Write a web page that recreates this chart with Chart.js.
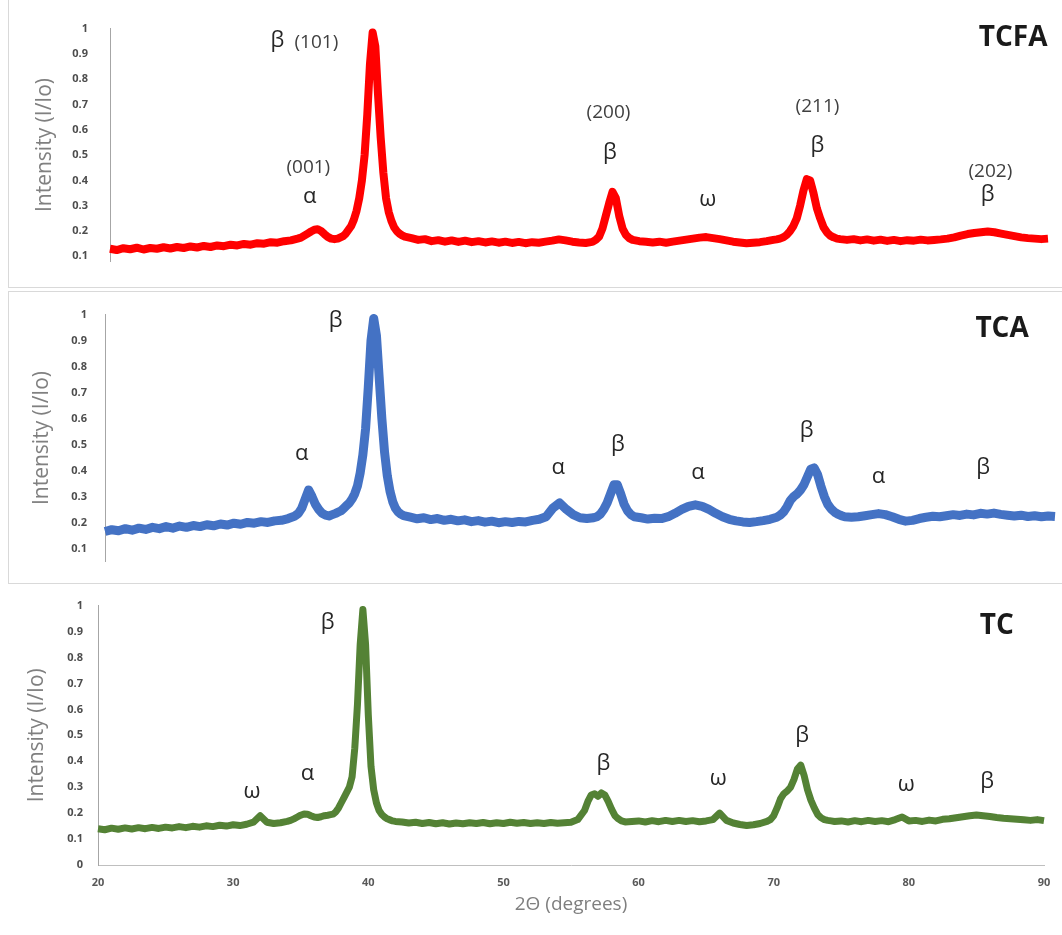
<!DOCTYPE html>
<html>
<head>
<meta charset="utf-8">
<script src="https://cdn.jsdelivr.net/npm/chart.js@4.4.0/dist/chart.umd.min.js"></script>
<style>
  body { margin: 0; background: #fff; width: 1062px; height: 935px; overflow: hidden; position: relative; }
  canvas { position: absolute; }
  .frame { position: absolute; border: 0 solid #d9d9d9; box-sizing: border-box; }
</style>
</head>
<body>
<div class="frame" style="left:8px;top:0;width:1054px;height:288px;border-left-width:1px;border-bottom-width:1px"></div>
<div class="frame" style="left:8px;top:291px;width:1054px;height:293px;border-left-width:1px;border-top-width:1px;border-bottom-width:1px"></div>
<canvas id="chartTcfa" width="1054" height="290" style="left:8px;top:0"></canvas>
<canvas id="chartTca" width="1054" height="296" style="left:8px;top:290px"></canvas>
<canvas id="chartTc" width="1062" height="351" style="left:0;top:584px"></canvas>
<script>
const fontFam = "'Open Sans', 'DejaVu Sans', sans-serif";

// 2theta positions (deg), shared by the three patterns
const twoTheta = [
  20,20.5,21,21.5,22,22.5,23,23.5,24,24.5,25,25.5,26,26.5,27,27.5,28,28.5,29,29.5,30,30.5,31,31.5,32,32.5,33,33.5,34,
  34.25,34.5,34.75,35,35.25,35.5,35.75,36,36.25,36.5,36.75,37,
  37.2,37.4,37.6,37.8,38,38.2,38.4,38.6,38.8,39,39.2,39.4,39.6,39.8,40,40.2,40.4,40.6,40.8,41,41.2,41.4,41.6,41.8,42,
  42.5,43,43.5,44,44.5,45,45.5,46,46.5,47,47.5,48,48.5,49,49.5,50,50.5,51,51.5,52,
  52.5,53,53.5,54,54.5,55,55.5,56,56.25,56.5,56.75,57,57.25,57.5,57.75,58,58.25,58.5,58.75,59,
  59.5,60,60.5,61,61.5,62,62.5,63,63.5,64,64.5,65,65.5,66,66.5,67,67.5,68,68.5,69,69.5,
  69.75,70,70.25,70.5,70.75,71,71.25,71.5,71.75,72,72.25,72.5,72.75,73,73.25,73.5,73.75,74,74.25,74.5,
  75,75.5,76,76.5,77,77.5,78,78.5,79,79.5,80,80.5,81,81.5,82,82.5,83,83.5,84,84.5,85,85.5,86,86.5,87,87.5,88,88.5,89,89.5,90
];

// I/Io
const tcfa = [
  .130,.125,.132,.128,.134,.127,.133,.130,.136,.131,.137,.133,.139,.135,.141,.137,.143,.140,.146,.143,.149,.146,.152,.150,.156,.154,.160,.163,.170,
  .174,.182,.19,.198,.205,.207,.2,.188,.177,.17,.168,.17,
  .175,.18,.19,.205,.22,.245,.28,.33,.40,.50,.66,.86,.985,.93,.74,.57,.43,.33,.275,.24,.215,.2,.19,.183,.178,
  .172,.165,.168,.16,.164,.158,.163,.157,.162,.156,.16,.155,.159,.154,.158,.153,.157,.152,.156,.154,
  .158,.162,.167,.163,.158,.155,.153,.157,.165,.178,.21,.26,.31,.355,.33,.26,.21,.185,.172,.165,
  .16,.158,.155,.158,.154,.158,.162,.166,.17,.174,.176,.172,.168,.163,.158,.155,.152,.154,.156,.16,.165,
  .167,.17,.175,.185,.2,.22,.25,.3,.36,.405,.4,.35,.29,.25,.215,.195,.182,.175,.17,.168,
  .165,.168,.163,.167,.162,.166,.161,.165,.16,.164,.162,.166,.163,.165,.167,.17,.175,.182,.188,.192,.195,.198,.195,.19,.185,.18,.175,.172,.17,.168,.17
];
const tca = [
  .165,.172,.168,.176,.17,.178,.173,.181,.176,.184,.178,.186,.181,.188,.184,.191,.187,.194,.19,.197,.193,.2,.197,.203,.2,.206,.208,.215,.225,
  .235,.255,.29,.325,.3,.27,.25,.235,.228,.225,.23,.235,
  .24,.245,.255,.265,.275,.29,.31,.34,.39,.46,.56,.72,.9,.985,.92,.76,.6,.47,.38,.32,.28,.255,.24,.232,.226,
  .22,.214,.218,.211,.215,.208,.212,.206,.21,.203,.207,.201,.205,.199,.203,.2,.204,.202,.208,.212,
  .222,.255,.275,.25,.23,.218,.215,.218,.222,.232,.25,.275,.31,.345,.345,.31,.27,.245,.23,.222,
  .218,.213,.216,.215,.222,.235,.25,.262,.268,.262,.25,.235,.222,.212,.206,.202,.2,.203,.207,.212,.22,
  .228,.24,.26,.285,.3,.31,.325,.345,.375,.405,.41,.385,.34,.3,.27,.252,.24,.232,.226,.222,
  .22,.222,.226,.23,.234,.23,.222,.212,.205,.208,.215,.22,.224,.222,.226,.23,.227,.232,.229,.235,.232,.236,.231,.228,.225,.228,.223,.226,.222,.225,.223
];
const tc = [
  .14,.136,.142,.138,.143,.139,.144,.14,.145,.141,.146,.143,.148,.144,.149,.146,.151,.148,.153,.15,.155,.152,.157,.165,.19,.165,.16,.163,.168,
  .172,.178,.185,.192,.197,.196,.19,.185,.183,.186,.19,.192,
  .194,.196,.205,.22,.24,.26,.28,.3,.34,.45,.62,.85,.985,.85,.58,.38,.29,.24,.21,.195,.185,.178,.174,.17,.168,
  .166,.162,.165,.16,.164,.159,.163,.158,.162,.159,.163,.16,.164,.159,.163,.16,.165,.161,.164,.16,
  .163,.16,.164,.161,.163,.165,.175,.21,.245,.27,.275,.265,.278,.27,.245,.215,.19,.178,.17,.166,
  .168,.17,.166,.171,.167,.172,.168,.172,.168,.171,.167,.17,.175,.2,.172,.162,.156,.152,.155,.16,.168,
  .175,.19,.22,.255,.275,.285,.3,.33,.37,.385,.345,.29,.25,.22,.195,.182,.175,.172,.17,.168,
  .17,.166,.171,.167,.172,.168,.171,.167,.175,.185,.17,.172,.168,.173,.17,.176,.178,.182,.186,.19,.193,.19,.187,.183,.18,.178,.176,.174,.172,.175,.171
];

const xTicks = [20, 30, 40, 50, 60, 70, 80, 90];
const yTicks = [0.1, 0.2, 0.3, 0.4, 0.5, 0.6, 0.7, 0.8, 0.9, 1];
const yTicksTc = [0, 0.1, 0.2, 0.3, 0.4, 0.5, 0.6, 0.7, 0.8, 0.9, 1];

// phase labels, placed in (2theta, I/Io)
const tcfaLabels = [
  { x: 32.5, y: 0.952, text: 'β' }, { x: 35.4, y: 0.945, text: '(101)' },
  { x: 34.8, y: 0.449, text: '(001)' }, { x: 34.9, y: 0.336, text: 'α' },
  { x: 57.2, y: 0.67, text: '(200)' }, { x: 57.3, y: 0.51, text: 'β' },
  { x: 64.6, y: 0.325, text: 'ω' },
  { x: 72.8, y: 0.69, text: '(211)' }, { x: 72.8, y: 0.537, text: 'β' },
  { x: 85.7, y: 0.434, text: '(202)' }, { x: 85.5, y: 0.343, text: 'β' },
  { x: 87.4, y: 0.963, text: 'TCFA' }
];
const tcaLabels = [
  { x: 37.0, y: 0.976, text: 'β' }, { x: 34.5, y: 0.465, text: 'α' },
  { x: 53.4, y: 0.41, text: 'α' }, { x: 57.8, y: 0.50, text: 'β' },
  { x: 63.7, y: 0.39, text: 'α' }, { x: 71.7, y: 0.554, text: 'β' },
  { x: 77.0, y: 0.377, text: 'α' }, { x: 84.7, y: 0.41, text: 'β' },
  { x: 86.1, y: 0.944, text: 'TCA' }
];
const tcLabels = [
  { x: 37.0, y: 0.935, text: 'β' }, { x: 31.4, y: 0.284, text: 'ω' },
  { x: 35.5, y: 0.35, text: 'α' }, { x: 57.4, y: 0.39, text: 'β' },
  { x: 65.9, y: 0.333, text: 'ω' }, { x: 72.1, y: 0.50, text: 'β' },
  { x: 79.8, y: 0.31, text: 'ω' }, { x: 85.8, y: 0.32, text: 'β' },
  { x: 86.5, y: 0.92, text: 'TC' }
];

function peakLabels(items) {
  return {
    id: 'peakLabels',
    afterDatasetsDraw: function (chart) {
      const ctx = chart.ctx, sx = chart.scales.x, sy = chart.scales.y;
      ctx.save();
      ctx.textAlign = 'center';
      ctx.textBaseline = 'middle';
      items.forEach(function (it) {
        if (it.text.charAt(0) === '(') {
          ctx.font = '19px ' + fontFam; ctx.fillStyle = '#404040';
        } else if (it.text.length > 1) {
          ctx.font = 'bold 28px ' + fontFam; ctx.fillStyle = '#1a1a1a';
        } else {
          ctx.font = '22px ' + fontFam; ctx.fillStyle = '#262626';
        }
        ctx.fillText(it.text, sx.getPixelForValue(it.x), sy.getPixelForValue(it.y));
      });
      ctx.restore();
    }
  };
}

function buildChart(canvasId, values, color, lineWidth, labels, cfg) {
  return new Chart(document.getElementById(canvasId), {
    type: 'line',
    data: {
      datasets: [{
        data: twoTheta.map(function (t, i) { return { x: t, y: values[i] }; }),
        borderColor: color,
        borderWidth: lineWidth,
        borderJoinStyle: 'round',
        pointRadius: 0,
        tension: 0,
        fill: false,
        clip: false
      }]
    },
    options: {
      responsive: false,
      animation: false,
      events: [],
      layout: { padding: cfg.padding },
      plugins: { legend: { display: false }, tooltip: { enabled: false } },
      scales: {
        x: {
          type: 'linear', min: 20, max: 90,
          display: cfg.showX,
          afterBuildTicks: function (axis) { axis.ticks = xTicks.map(function (v) { return { value: v }; }); },
          afterFit: function (axis) { axis.height = cfg.showX ? 70 : 0; },
          grid: { display: false, drawTicks: false },
          border: { display: true, color: '#bfbfbf' },
          ticks: { padding: 11, autoSkip: false, maxRotation: 0, color: '#595959', font: { size: 11, weight: 'bold', family: fontFam } },
          title: { display: true, text: '2Θ (degrees)', color: '#7f7f7f', font: { size: 19, family: fontFam }, padding: { top: 0, bottom: 19 } }
        },
        y: {
          type: 'linear', min: cfg.yMin, max: 1,
          afterBuildTicks: function (axis) { axis.ticks = cfg.ticks.map(function (v) { return { value: v }; }); },
          afterFit: function (axis) { axis.width = cfg.axisWidth; },
          grid: { display: false, drawTicks: false },
          border: { display: true, color: '#a6a6a6' },
          ticks: {
            padding: cfg.tickPad, autoSkip: false, color: '#4d4d4d',
            font: { size: 11, weight: 'bold', family: fontFam },
            callback: function (v) { return String(v); }
          },
          title: { display: true, text: 'Intensity (I/Io)', color: '#808080', font: { size: 21, family: fontFam }, padding: { top: cfg.titlePad, bottom: 0 } }
        }
      }
    },
    plugins: [peakLabels(labels)]
  });
}

var chartTcfa = buildChart('chartTcfa', tcfa, '#ff0000', 8, tcfaLabels, {
  padding: { top: 21, right: 14, bottom: 8, left: 0 },
  axisWidth: 102, yMin: 0.08, ticks: yTicks, tickPad: 22, titlePad: 24.4, showX: false
});
var chartTca = buildChart('chartTca', tca, '#4472c4', 9, tcaLabels, {
  padding: { top: 21, right: 7, bottom: 7, left: 0 },
  axisWidth: 97, yMin: 0.05, ticks: yTicks, tickPad: 18, titlePad: 21.4, showX: false
});
var chartTc = buildChart('chartTc', tc, '#548235', 7, tcLabels, {
  padding: { top: 17, right: 18, bottom: 0, left: 0 },
  axisWidth: 98, yMin: 0, ticks: yTicksTc, tickPad: 15, titlePad: 24.4, showX: true
});
</script>
</body>
</html>
